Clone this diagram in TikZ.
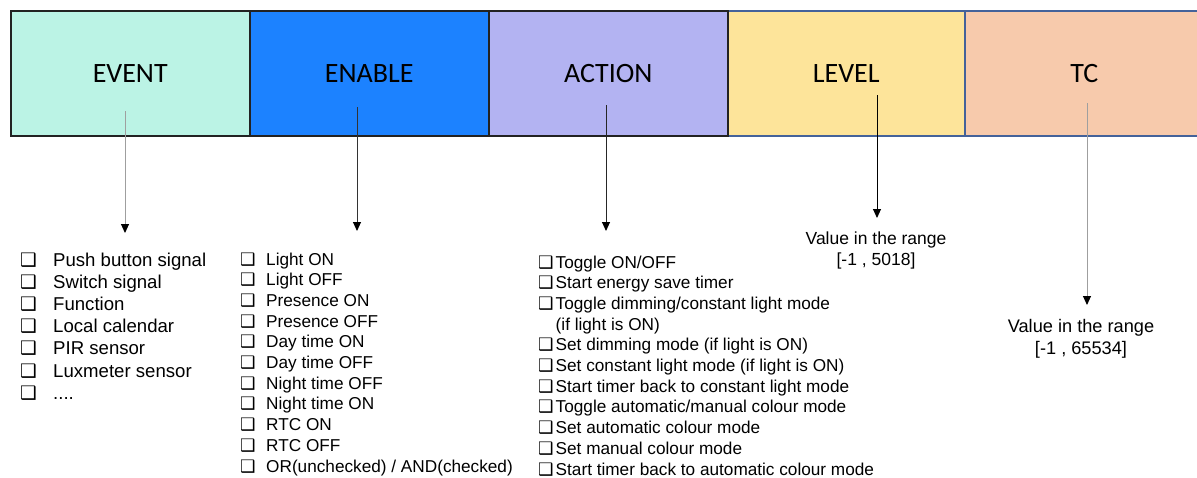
\documentclass[tikz,border=0pt]{standalone}
\usepackage{fontspec}
\setmainfont{Liberation Sans}
\newfontfamily\calib{Carlito}
\newfontfamily\djv{DejaVu Sans}
\usetikzlibrary{arrows.meta}
\definecolor{cEvent}{HTML}{BBF3E5}
\definecolor{cEnable}{HTML}{1C82FF}
\definecolor{cAction}{HTML}{B3B3F2}
\definecolor{cLevel}{HTML}{FDE49A}
\definecolor{cTc}{HTML}{F7CAAC}
\definecolor{bBlue}{HTML}{44629A}
\definecolor{bDark}{HTML}{222222}
\newcommand{\cbx}{{\djv ❑}}
\begin{document}
\begin{tikzpicture}[x=1pt,y=-1pt,
  boxst/.style={draw=bDark, line width=1.5pt, minimum height=125pt, anchor=north west,
    inner sep=0pt, font=\calib\fontsize{28}{28}\selectfont, text height=18pt, text depth=0pt},
  evitem/.style={anchor=base west, inner sep=0pt, font=\fontsize{18.6}{22}\selectfont},
  enitem/.style={anchor=base west, inner sep=0pt, font=\fontsize{17.2}{21}\selectfont},
  valtxt/.style={anchor=base, inner sep=0pt},
  arr/.style={line width=1pt, -{Triangle[width=8pt,length=9pt,color=black]}}
]
\useasboundingbox (0,0) rectangle (1197,477);

% boxes
\node[boxst, draw=bBlue, fill=cTc, minimum width=250pt] (tc) at (964,10) {\hspace*{-11pt}TC};
\node[boxst, draw=bBlue, fill=cLevel, minimum width=237pt] (level) at (727,10) {LEVEL};
\node[boxst, fill=cEvent, minimum width=239pt] (event) at (10,10) {EVENT};
\node[boxst, fill=cEnable, minimum width=239pt] (enable) at (249,10) {ENABLE};
\node[boxst, fill=cAction, minimum width=239pt] (action) at (488,10) {ACTION};

% EVENT list
\foreach \t [count=\i from 0] in {Push button signal, Switch signal, Function, Local calendar, PIR sensor, Luxmeter sensor}
  \node[evitem] (ev\i) at (20,{266+22.2*\i}) {\makebox[33pt][l]{\cbx}\t};
\node[evitem] (ev6) at (20,{266+22.2*6}) {\makebox[33pt][l]{\cbx}....};

% ENABLE list
\foreach \t [count=\i from 0] in {Light ON, Light OFF, Presence ON, Presence OFF, Day time ON, Day time OFF, Night time OFF, Night time ON, RTC ON, RTC OFF, OR(unchecked) / AND(checked)}
  \node[enitem] (en\i) at (240,{265+20.7*\i}) {\makebox[26pt][l]{\cbx}\t};

% ACTION list
\node[enitem] (ac0) at (538,268) {\makebox[17.5pt][l]{\cbx}Toggle ON/OFF};
\node[enitem] (ac1) at (538,288.7) {\makebox[17.5pt][l]{\cbx}Start energy save timer};
\node[enitem] (ac2) at (538,309.4) {\makebox[17.5pt][l]{\cbx}Toggle dimming/constant light mode};
\node[enitem] (ac3) at (555.5,330.1) {(if light is ON)};
\node[enitem] (ac4) at (538,350.8) {\makebox[17.5pt][l]{\cbx}Set dimming mode (if light is ON)};
\node[enitem] (ac5) at (538,371.5) {\makebox[17.5pt][l]{\cbx}Set constant light mode (if light is ON)};
\node[enitem] (ac6) at (538,392.2) {\makebox[17.5pt][l]{\cbx}Start timer back to constant light mode};
\node[enitem] (ac7) at (538,412.9) {\makebox[17.5pt][l]{\cbx}Toggle automatic/manual colour mode};
\node[enitem] (ac8) at (538,433.6) {\makebox[17.5pt][l]{\cbx}Set automatic colour mode};
\node[enitem] (ac9) at (538,454.3) {\makebox[17.5pt][l]{\cbx}Set manual colour mode};
\node[enitem] (ac10) at (538,475) {\makebox[17.5pt][l]{\cbx}Start timer back to automatic colour mode};

% value texts
\node[valtxt, font=\fontsize{17.5}{21}\selectfont] (lv1) at (876,244) {Value in the range};
\node[valtxt, font=\fontsize{17.5}{21}\selectfont] (lv2) at (876,265) {[-1 , 5018]};
\node[valtxt, font=\fontsize{18.2}{22}\selectfont] (tc1) at (1081,332) {Value in the range};
\node[valtxt, font=\fontsize{18.2}{22}\selectfont] (tc2) at (1081,354) {[-1 , 65534]};

% arrows
\coordinate (evA) at (125,111); \coordinate (evB) at (125,233);
\coordinate (enA) at (357,107); \coordinate (enB) at (357,231);
\coordinate (acA) at (606,105); \coordinate (acB) at (606,231);
\coordinate (lvA) at (877,95);  \coordinate (lvB) at (877,218);
\coordinate (tcA) at (1087,103); \coordinate (tcB) at (1087,305);
\draw[arr, draw=gray!75] (evA) -- (evB);
\draw[arr, draw=black!80] (enA) -- (enB);
\draw[arr, draw=black!85] (acA) -- (acB);
\draw[arr, draw=black] (lvA) -- (lvB);
\draw[arr, draw=gray!75] (tcA) -- (tcB);
\end{tikzpicture}
\end{document}
